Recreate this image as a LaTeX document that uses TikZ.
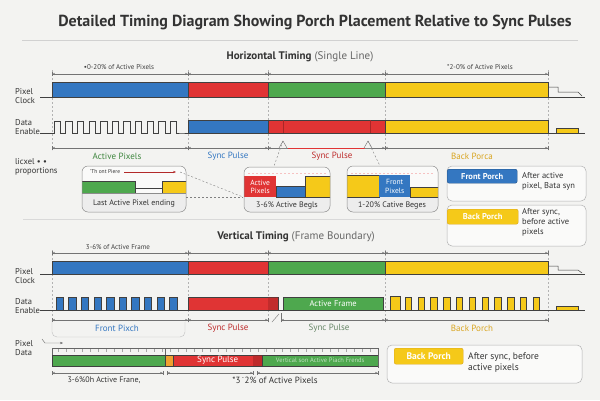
\documentclass[tikz,border=0pt]{standalone}
\usepackage{fontspec}
\setmainfont{PT Sans}
\usetikzlibrary{arrows.meta}
\definecolor{bgC}{HTML}{F3F3F1}
\definecolor{blueC}{HTML}{3477C1}
\definecolor{redC}{HTML}{E03434}
\definecolor{greenC}{HTML}{4EA84E}
\definecolor{yellowC}{HTML}{F5C919}
\definecolor{orangeC}{HTML}{F0A030}
\definecolor{inkC}{HTML}{333333}
\definecolor{porchC}{HTML}{D9A520}
\tikzset{
  sig/.style={draw=black!75, line width=0.5pt},
  guide/.style={draw=black!30, dash pattern=on 2pt off 2pt, line width=0.4pt},
  dimline/.style={draw=black!55, line width=0.4pt,
    {Bar[width=4pt]Stealth[length=2.5pt,width=2.2pt]}-{Stealth[length=2.5pt,width=2.2pt]Bar[width=4pt]}},
  rowlbl/.style={font=\fontsize{8.5}{9.5}\selectfont, text=inkC, align=left, anchor=west, inner sep=0pt},
  dimlbl/.style={font=\fontsize{7}{8}\selectfont, text=black!75, inner sep=0pt},
  seglbl/.style={font=\fontsize{9}{10}\selectfont, inner sep=0pt},
  inset/.style={draw=black!45, rounded corners=6pt, line width=0.5pt},
  tag/.style={rounded corners=2pt, font=\fontsize{8.5}{9}\selectfont\bfseries, text=white, inner sep=0pt, anchor=north west},
  legendbox/.style={draw=black!30, rounded corners=5pt, fill=white!60!bgC, line width=0.5pt},
  note/.style={font=\fontsize{8.5}{10}\selectfont, text=inkC, align=left, anchor=north west, inner sep=0pt}
}
\begin{document}
\begin{tikzpicture}[x=1pt,y=-1pt]
\fill[bgC] (0,0) rectangle (600,400);
\useasboundingbox (0,0) rectangle (600,400);

% title
\node[font=\fontsize{16}{18}\selectfont\bfseries, text=inkC] (title) at (315,22)
  {Detailed Timing Diagram Showing Porch Placement Relative to Sync Pulses};
\draw[black!18, line width=0.6pt] (22,40) -- (578,40);

% ---- horizontal timing ----
\node[font=\fontsize{11}{13}\selectfont, text=inkC] (htitle) at (300,57)
  {\textbf{Horizontal Timing} {\color{black!60}(Single Line)}};
\foreach \x in {52,188,268,385,548}
  \draw[guide] (\x,70) -- (\x,150);
\foreach \a/\b in {52/188,188/268,268/385,385/548}
  \draw[dimline] (\a,74) -- (\b,74);
\node[dimlbl] (hdimA) at (119,67) {•0-20\% of Active Pixels};
\node[dimlbl] (hdimD) at (480,67) {*2-0\% of Active Pixels};

% pixel clock
\node[rowlbl] (hclk) at (15,96) {Pixel\\Clock};
\foreach \a/\b/\c in {52/188/blueC,188/268/redC,268/385/greenC,385/548/yellowC}
  \draw[sig, fill=\c] (\a,82) rectangle (\b,97);
\draw[sig] (40,97) -- (52,97);
\draw[sig] (548,97) -- (585,97);
\draw[sig] (548,87) -- (558,87) -- (558,92) -- (578,92) -- (582,96);

% data enable
\node[rowlbl] (hde) at (15,127) {Data\\Enable};
\draw[sig] (40,133) -- (54,133)
  \foreach \i in {1,...,11}{ -- ++(0,-12) -- ++(6.4,0) -- ++(0,12) -- ++(5.2,0)} -- (188,133);
\foreach \a/\b/\c in {188/268/blueC,268/385/redC,385/548/yellowC}
  \draw[sig, fill=\c] (\a,120) rectangle (\b,133);
\draw[redC!75!black, line width=0.9pt] (283,120) -- (283,133);
\draw[redC!75!black, line width=0.9pt] (370,120) -- (370,133);
\draw[sig] (548,133) -- (585,133);
\draw[sig, fill=yellowC] (556,133) -- (556,128) -- (578,128) -- (578,133);

% lower dimensions
\foreach \a/\b in {52/188,188/268,268/385,385/548}
  \draw[dimline] (\a,148) -- (\b,148);
\draw[redC, line width=0.7pt] (288,148) -- (365,148);
\coordinate (bumpA) at (283,141);
\coordinate (bumpB) at (368,141);
\draw[black!55, fill=bgC] (279,148) -- (bumpA) -- (287,148);
\draw[black!55, fill=bgC] (364,148) -- (bumpB) -- (372,148);
\node[seglbl, text=greenC!80!black] (hsegA) at (117,156) {Active Pixels};
\node[seglbl, text=blueC] (hsegB) at (228,156) {Sync Pulse};
\node[seglbl, text=redC!85!black] (hsegC) at (332,156) {Sync Pulse};
\node[seglbl, text=porchC] (hsegD) at (472,156) {Back Porca};

\node[rowlbl] (prop) at (15,167) {licxel • •\\proportions};

% inset one
\begin{scope}
  \clip[rounded corners=6pt] (82,166) rectangle (186,212);
  \fill[white!60!bgC] (82,166) rectangle (186,193);
  \fill[black!7] (82,193) rectangle (186,212);
  \draw[sig, fill=greenC] (80,181) -- (135,181) -- (135,193) -- (80,193);
  \draw[sig, fill=yellowC] (162,193) -- (162,181) -- (188,181) -- (188,193);
\end{scope}
\draw[sig] (135,188) -- (162,188);
\draw[black!45] (82,193) -- (186,193);
\draw[inset] (82,166) rectangle (186,212);
\node[anchor=west, inner sep=0pt, font=\fontsize{5.5}{6}\selectfont, text=inkC] (insAtxt) at (90,172) {'Th ont Piere};
\draw[redC!80!black, -{Stealth[length=3pt]}] (insAtxt.east) ++(4,0) -- (176,172);
\node[font=\fontsize{8}{9}\selectfont, text=inkC] (insAcap) at (134,203) {Last Active Pixel ending};

% inset two
\begin{scope}
  \clip[rounded corners=6pt] (244,167) rectangle (330,212);
  \fill[white!60!bgC] (244,167) rectangle (330,197);
  \fill[black!7] (244,197) rectangle (330,212);
  \draw[sig, fill=blueC] (276,186) rectangle (305,197);
  \draw[sig, fill=yellowC] (305,176) rectangle (332,197);
\end{scope}
\node[fill=redC, minimum width=32pt, minimum height=21pt, inner sep=0pt, anchor=north west,
  font=\fontsize{7.5}{8.5}\selectfont, text=white, align=center] (insBtag) at (244,176) {Active\\Pixels};
\draw[redC!30, dash pattern=on 2pt off 2pt] (248,173) -- (327,173);
\draw[inset] (244,167) rectangle (330,212);
\node[font=\fontsize{8}{9}\selectfont, text=inkC] (insBcap) at (287,205) {3-6\% Active Begls};

% inset three
\begin{scope}
  \clip[rounded corners=6pt] (347,166) rectangle (438,212);
  \fill[white!60!bgC] (347,166) rectangle (438,197);
  \fill[black!7] (347,197) rectangle (438,212);
  \draw[sig, fill=yellowC] (345,175) rectangle (379,197);
  \draw[sig, fill=yellowC] (410,187) rectangle (440,197);
\end{scope}
\node[fill=blueC, minimum width=31pt, minimum height=22pt, inner sep=0pt, anchor=north west,
  font=\fontsize{7.5}{8.5}\selectfont, text=white, align=center] (insCtag) at (379,175) {Front\\Pixels};
\draw[redC!30, dash pattern=on 2pt off 2pt] (351,173) -- (434,173);
\draw[inset] (347,166) rectangle (438,212);
\node[font=\fontsize{8}{9}\selectfont, text=inkC] (insCcap) at (392,205) {1-20\% Cative Beges};

% leaders to insets
\coordinate (insAend) at (180,172);
\coordinate (insBfoot) at (243,197);
\draw[guide, draw=black!50] (insAend) -- (insBfoot);
\draw[guide, draw=black!50] (186,197) -- (insBfoot);
\draw[guide, draw=black!50] (bumpA) -- (274,166);
\draw[guide, draw=black!50] (bumpB) -- (380,166);

% legend boxes
\draw[legendbox] (447,166) rectangle (586,201);
\node[tag, fill=blueC, draw=blueC!70!black, minimum width=70pt, minimum height=14pt] (fptag) at (447,169) {Front Porch};
\node[note] (fpnote) at (522,172) {After active\\pixel, Bata syn};
\draw[legendbox] (447,205) rectangle (586,246);
\node[tag, fill=yellowC, draw=porchC, minimum width=71pt, minimum height=15pt] (bptag) at (447,209) {Back Porch};
\node[note] (bpnote) at (522,208) {After sync,\\before active\\pixels};

\draw[black!15, line width=0.6pt] (23,219) -- (440,219);

% ---- vertical timing ----
\node[font=\fontsize{11}{13}\selectfont, text=inkC] (vtitle) at (296,237)
  {\textbf{Vertical Timing} {\color{black!60}(Frame Boundary)}};
\node[dimlbl] (vdimA) at (118,247) {3-6\% of Active Frame};
\foreach \x in {188,268,385,548}
  \draw[guide] (\x,250) -- (\x,322);
\draw[guide] (52,250) -- (52,320);
\foreach \a/\b in {52/188,188/268,268/385,385/548}
  \draw[dimline] (\a,253) -- (\b,253);

% pixel clock
\node[rowlbl] (vclk) at (15,276) {Pixel\\Clock};
\foreach \a/\b/\c in {52/188/blueC,188/268/redC,268/385/greenC,385/548/yellowC}
  \draw[sig, fill=\c] (\a,261) rectangle (\b,274);
\draw[sig] (40,274) -- (52,274);
\draw[sig] (548,274) -- (585,274);
\draw[sig] (548,266) -- (558,266) -- (558,270) -- (578,270) -- (582,273);

% data enable
\node[rowlbl] (vde) at (15,306) {Data\\Enable};
\draw[sig] (40,310) -- (585,310);
\foreach \i in {0,...,9}
  \draw[sig, fill=blueC] ({56+12.6*\i},310) rectangle ++(7.5,-13);
\draw[sig, fill=redC] (188,297) rectangle (278,310);
\fill[redC!70!black, opacity=0.45] (268,297) rectangle (278,310);
\node[draw=black!75, fill=greenC, minimum width=100pt, minimum height=13pt, inner sep=0pt, anchor=north west,
  font=\fontsize{8.5}{9}\selectfont, text=white] (actframe) at (283,297) {Active Frame};
\draw[sig, fill=yellowC] (390,310) rectangle (400,296);
\foreach \i in {0,...,10}
  \draw[sig, fill=yellowC] ({405+12.8*\i},310) rectangle ++(6.5,-13);
\draw[sig, fill=yellowC] (556,310) -- (556,306) -- (578,306) -- (578,310);
\draw[black!55] (272,322) -- (279,314);
\draw[black!55] (281,313) -- (281,320);

\foreach \a/\b in {52/188,188/268,281/385,385/548}
  \draw[dimline] (\a,320) -- (\b,320);
\node[seglbl, text=blueC] (vsegA) at (117,328) {Front Pixch};
\node[seglbl, text=redC!85!black] (vsegB) at (228,328) {Sync Pulse};
\node[seglbl, text=greenC!50!black!70] (vsegC) at (329,328) {Sync Pulse};
\node[seglbl, text=porchC] (vsegD) at (472,328) {Back Porch};
\draw[black!25, rounded corners=5pt] (52,320) |- (185,337) -- (185,322);

% pixel data
\node[rowlbl] (vdata) at (15,348) {Pixel\\Data};
\coordinate (pdtail) at (42,339);
\coordinate (pdhead) at (63,343);
\draw[black!60, -{Stealth[length=3pt]}] (pdtail) -- (45,343) -- (pdhead);
\foreach \x in {58,66,...,374}
  \draw[black!35] (\x,348) -- (\x,352);
\draw[sig, fill=greenC] (52,355) rectangle (165,366);
\draw[sig, fill=orangeC] (165,355) rectangle (173,366);
\node[draw=black!75, fill=redC, minimum width=89pt, minimum height=11pt, inner sep=0pt, anchor=north west,
  font=\fontsize{9}{9}\selectfont, text=white] (pdsync) at (173,355) {Sync Pulse};
\fill[redC!70!black, opacity=0.5] (253,355) rectangle (262,366);
\node[draw=black!75, fill=greenC, minimum width=116pt, minimum height=11pt, inner sep=0pt, anchor=north west,
  font=\fontsize{6.5}{7}\selectfont, text=greenC!35!white] (pdvert) at (262,355) {Vertical son Active Piach Frends};
\draw[black!60] (52,355) -- (52,348) -- (378,348) -- (378,368);
\draw[black!60] (165,348) -- (165,355);
\foreach \a/\b in {52/163,167/253,257/378}
  \draw[dimline] (\a,373) -- (\b,373);
\node[font=\fontsize{8}{9}\selectfont, text=inkC] (pddimA) at (104,380) {3-6\%0h Active Frane,};
\node[font=\fontsize{9}{10}\selectfont, text=inkC] (pddimB) at (275,380) {*3\,\textsuperscript{-}2\% of Active Pixels};

% legend bottom
\draw[legendbox] (387,345) rectangle (582,383);
\node[tag, fill=yellowC, draw=porchC, minimum width=69pt, minimum height=16pt, font=\fontsize{9.5}{10}\selectfont\bfseries] (bptagB) at (394,348) {Back Porch};
\node[note, font=\fontsize{9.5}{11}\selectfont] (bpnoteB) at (468,353) {After sync, before\\active pixels};
\end{tikzpicture}
\end{document}
